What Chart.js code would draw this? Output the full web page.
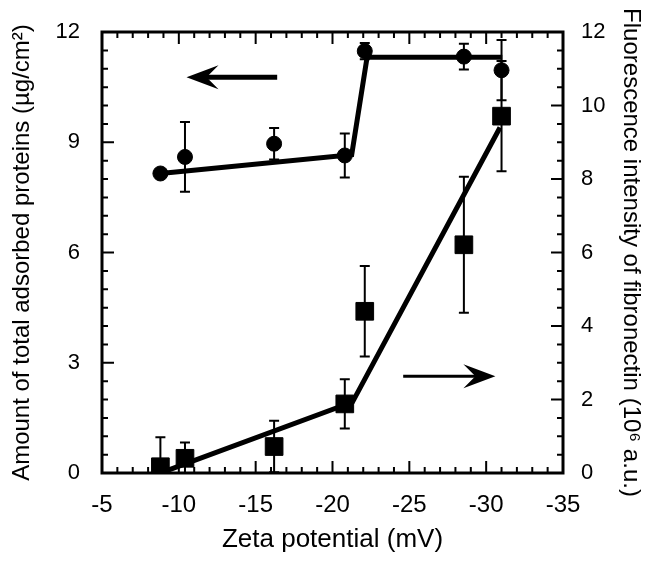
<!DOCTYPE html>
<html>
<head>
<meta charset="utf-8">
<script src="https://cdn.jsdelivr.net/npm/chart.js@4.4.1/dist/chart.umd.min.js"></script>
<style>
  html, body { margin: 0; padding: 0; background: #fff; }
  #wrap { width: 649px; height: 563px; }
</style>
</head>
<body>
<div id="wrap"><canvas id="chart" width="649" height="563"></canvas></div>
<script>
// zeta potential of each sample (mV)
const zeta = [-8.8, -10.4, -16.2, -20.8, -22.1, -28.55, -31.0]

// total adsorbed protein (ug/cm2), left axis
const protein = [8.15, 8.6, 8.96, 8.64, 11.48, 11.33, 10.96]
const proteinErr = [0, 0.95, 0.43, 0.6, 0.22, 0.35, 0.82]

// fibronectin fluorescence (10^6 a.u.), right axis
const fibronectin = [0.17, 0.4, 0.72, 1.88, 4.4, 6.21, 9.71]
const fibronectinErr = [0.8, 0.43, 0.7, 0.67, 1.23, 1.85, 1.5]

// fitted trend lines
const proteinFitX = [-8.8, -21.25, -22.25, -31.05]
const proteinFitY = [8.15, 8.66, 11.31, 11.31]
const fibronectinFitX = [-9.0, -21.3, -30.9]
const fibronectinFitY = [0.03, 1.93, 9.4]

const xTicks = [-5, -10, -15, -20, -25, -30, -35]
const leftTicks = [0, 3, 6, 9, 12]
const rightTicks = [0, 2, 4, 6, 8, 10, 12]

const pts = (xs, ys) => xs.map((x, i) => ({ x, y: ys[i] }))

Chart.defaults.font.family = "'Liberation Sans', Arial, sans-serif"
Chart.defaults.color = "#000"

const errorBars = {
  id: "errorBars",
  beforeDatasetsDraw(chart) {
    const { ctx, chartArea: a, scales } = chart
    ctx.save()
    ctx.beginPath()
    ctx.rect(a.left, a.top, a.right - a.left, a.bottom - a.top)
    ctx.clip()
    ctx.strokeStyle = "#000"
    ctx.lineWidth = 2
    const draw = (ys, errs, scale) => {
      zeta.forEach((z, i) => {
        if (!errs[i]) return
        const px = scales.x.getPixelForValue(z)
        const top = scale.getPixelForValue(ys[i] + errs[i])
        const bot = scale.getPixelForValue(ys[i] - errs[i])
        ctx.beginPath()
        ctx.moveTo(px, top); ctx.lineTo(px, bot)
        ctx.moveTo(px - 5, top); ctx.lineTo(px + 5, top)
        ctx.moveTo(px - 5, bot); ctx.lineTo(px + 5, bot)
        ctx.stroke()
      })
    }
    draw(protein, proteinErr, scales.y)
    draw(fibronectin, fibronectinErr, scales.y1)
    ctx.restore()
  }
}

const frame = {
  id: "frame",
  afterDraw(chart) {
    const { ctx, chartArea: a, scales: { x, y, y1 } } = chart
    ctx.save()
    ctx.strokeStyle = "#000"
    ctx.lineWidth = 2
    ctx.beginPath()
    for (let v = -35; v <= -5; v++) {
      const px = x.getPixelForValue(v)
      const len = v % 5 === 0 ? 12 : 6
      ctx.moveTo(px, a.bottom); ctx.lineTo(px, a.bottom - len)
      ctx.moveTo(px, a.top); ctx.lineTo(px, a.top + len)
    }
    for (let v = 0; v <= 12; v += 0.5) {
      const pl = y.getPixelForValue(v)
      ctx.moveTo(a.left, pl); ctx.lineTo(a.left + (v % 3 === 0 ? 12 : 6), pl)
      const pr = y1.getPixelForValue(v)
      ctx.moveTo(a.right, pr); ctx.lineTo(a.right - (v % 2 === 0 ? 12 : 6), pr)
    }
    ctx.stroke()
    ctx.lineWidth = 3
    ctx.strokeRect(a.left, a.top, a.right - a.left, a.bottom - a.top)

    // direction arrows
    const arrow = (x0, x1, yv, scale, width) => {
      const p0 = x.getPixelForValue(x0), p1 = x.getPixelForValue(x1)
      const py = scale.getPixelForValue(yv)
      const dir = Math.sign(p1 - p0)
      ctx.lineWidth = width
      ctx.beginPath()
      ctx.moveTo(p0, py); ctx.lineTo(p1 - dir * 10, py)
      ctx.stroke()
      ctx.beginPath()
      ctx.moveTo(p1, py)
      ctx.lineTo(p1 - dir * 32, py - 12)
      ctx.lineTo(p1 - dir * 20, py)
      ctx.lineTo(p1 - dir * 32, py + 12)
      ctx.closePath()
      ctx.fill()
    }
    ctx.fillStyle = "#000"
    arrow(-16.4, -10.5, 10.77, y, 5)
    arrow(-24.6, -30.6, 2.63, y1, 3)
    ctx.restore()
  }
}

new Chart(document.getElementById("chart"), {
  type: "scatter",
  data: {
    datasets: [
      {
        data: pts(zeta, protein),
        yAxisID: "y",
        pointStyle: "circle",
        pointRadius: 7.5,
        backgroundColor: "#000",
        borderColor: "#000",
        order: 0
      },
      {
        data: pts(zeta, fibronectin),
        yAxisID: "y1",
        pointStyle: "rect",
        pointRadius: 12.5,
        backgroundColor: "#000",
        borderColor: "#000",
        order: 0
      },
      {
        type: "line",
        data: pts(proteinFitX, proteinFitY),
        yAxisID: "y",
        borderColor: "#000",
        borderWidth: 5,
        pointRadius: 0,
        order: 1
      },
      {
        type: "line",
        data: pts(fibronectinFitX, fibronectinFitY),
        yAxisID: "y1",
        borderColor: "#000",
        borderWidth: 5,
        pointRadius: 0,
        order: 1
      }
    ]
  },
  options: {
    responsive: false,
    animation: false,
    layout: { padding: { top: 32 } },
    plugins: { legend: { display: false }, tooltip: { enabled: false } },
    scales: {
      x: {
        type: "linear",
        reverse: true,
        min: -35,
        max: -5,
        afterBuildTicks: (s) => { s.ticks = xTicks.map(value => ({ value })) },
        afterFit: (s) => { s.height = 90 },
        ticks: { autoSkip: false, maxRotation: 0, padding: 10, font: { size: 24 } },
        grid: { display: false },
        border: { display: false },
        title: { display: true, text: "Zeta potential (mV)", font: { size: 26 }, padding: { top: 0, bottom: 8 } }
      },
      y: {
        position: "left",
        min: 0,
        max: 12,
        afterBuildTicks: (s) => { s.ticks = leftTicks.map(value => ({ value })) },
        afterFit: (s) => { s.width = 102 },
        ticks: { padding: 14, font: { size: 22 } },
        grid: { display: false },
        border: { display: false },
        title: { display: true, text: "Amount of total adsorbed proteins (µg/cm²)", font: { size: 24 }, padding: { top: 8, bottom: 0 } }
      },
      y1: {
        position: "right",
        min: 0,
        max: 12,
        afterBuildTicks: (s) => { s.ticks = rightTicks.map(value => ({ value })) },
        afterFit: (s) => { s.width = 86 },
        ticks: { padding: 10, font: { size: 22 } },
        grid: { display: false },
        border: { display: false },
        title: { display: true, text: "Fluorescence intensity of fibronectin (10⁶ a.u.)", font: { size: 24 }, padding: { top: 4, bottom: 0 } }
      }
    }
  },
  plugins: [errorBars, frame]
})
</script>
</body>
</html>
